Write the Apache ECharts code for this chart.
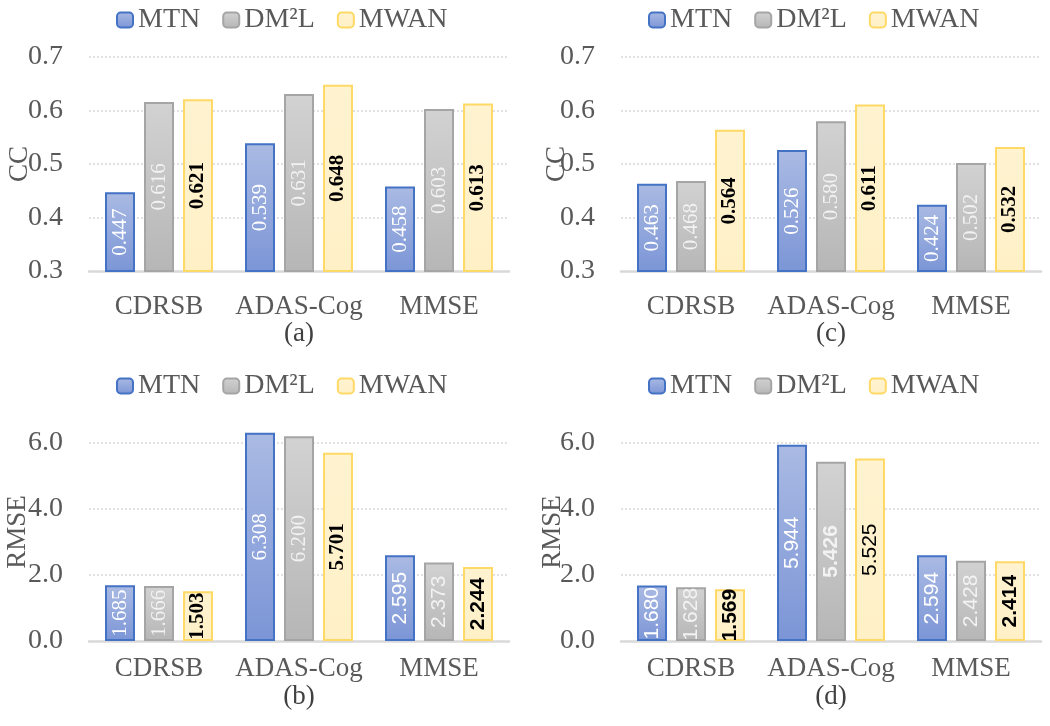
<!DOCTYPE html>
<html>
<head>
<meta charset="utf-8">
<script src="https://cdn.jsdelivr.net/npm/echarts@6/dist/echarts.min.js"></script>
<style>html,body{margin:0;padding:0;background:#fff}#c{width:1050px;height:726px}</style>
</head>
<body>
<div id="c"></div>
<script>
// ---- data ----
const categories = ['CDRSB', 'ADAS-Cog', 'MMSE'];
const seriesNames = ['MTN', 'DM\u00B2L', 'MWAN'];
const panelLabels = ['(a)', '(b)', '(c)', '(d)'];
const ccTicks = [0.3, 0.4, 0.5, 0.6, 0.7];
const rmseTicks = [0.0, 2.0, 4.0, 6.0];

const a_MTN = [0.447, 0.539, 0.458];
const a_DM2L = [0.616, 0.631, 0.603];
const a_MWAN = [0.621, 0.648, 0.613];

const b_MTN = [1.685, 6.308, 2.595];
const b_DM2L = [1.666, 6.200, 2.373];
const b_MWAN = [1.503, 5.701, 2.244];

const c_MTN = [0.463, 0.526, 0.424];
const c_DM2L = [0.468, 0.580, 0.502];
const c_MWAN = [0.564, 0.611, 0.532];

const d_MTN = [1.680, 5.944, 2.594];
const d_DM2L = [1.628, 5.426, 2.428];
const d_MWAN = [1.569, 5.525, 2.414];

// ---- styling / layout ----
const SERIF = "'Liberation Serif', 'DejaVu Serif', serif";
const SANS = "'Liberation Sans Narrow', 'Liberation Sans', 'DejaVu Sans', sans-serif";
const GRAY = '#595959';

const panels = [
  {vals: [a_MTN, a_DM2L, a_MWAN], left: 89, top: 57, height: 214, kind: 'cc', name: 'CC', nameGap: 56, catMargin: 22, title: panelLabels[0], tx: 299, ty: 334, ly: 6},
  {vals: [b_MTN, b_DM2L, b_MWAN], left: 89, top: 423, height: 218, kind: 'rmse', name: 'RMSE', nameGap: 58, catMargin: 14, title: panelLabels[1], tx: 299, ty: 697, ly: 372},
  {vals: [c_MTN, c_DM2L, c_MWAN], left: 621, top: 57, height: 214, kind: 'cc', name: 'CC', nameGap: 51, catMargin: 22, title: panelLabels[2], tx: 831, ty: 334, ly: 6},
  {vals: [d_MTN, d_DM2L, d_MWAN], left: 621, top: 423, height: 218, kind: 'rmse', name: 'RMSE', nameGap: 55, catMargin: 14, title: panelLabels[3], tx: 831, ty: 697, ly: 372}
];

function grad(top, bottom) {
  return new echarts.graphic.LinearGradient(0, 0, 0, 1, [{offset: 0, color: top}, {offset: 1, color: bottom}]);
}
const fills = [grad('#AABAE3', '#7B95D6'), grad('#D2D2D2', '#B6B6B6'), grad('#FFF3D0', '#FFF0C6')];
const borders = ['#4472C4', '#A5A5A5', '#FFD966'];

function labelFont(p, ci) {
  if (p === 3) return SANS;
  if (p === 1 && ci === 2) return SANS;
  return SERIF;
}
function labelWeight(p, si, ci) {
  if (p === 3 && ci === 1) return si === 1 ? 'bold' : 'normal';
  return si === 2 ? 'bold' : 'normal';
}
function labelColor(si) { return si === 2 ? '#000000' : (si === 1 ? '#F2F2F2' : '#FFFFFF'); }

const option = {
  animation: false,
  backgroundColor: '#fff',
  grid: [], xAxis: [], yAxis: [], series: [], legend: [], graphic: []
};

panels.forEach((pn, p) => {
  option.grid.push({left: pn.left, top: pn.top, width: 420, height: pn.height});
  option.xAxis.push({
    type: 'category', gridIndex: p, data: categories,
    axisLine: {lineStyle: {color: '#D9D9D9', width: 2.5}},
    axisTick: {show: false},
    axisLabel: {color: GRAY, fontFamily: SERIF, fontSize: 27, margin: pn.catMargin, interval: 0, hideOverlap: false}
  });
  const isCC = pn.kind === 'cc';
  const ticks = isCC ? ccTicks : rmseTicks;
  option.yAxis.push({
    type: 'value', gridIndex: p,
    min: ticks[0], max: isCC ? ticks[ticks.length - 1] : 6.6,
    interval: isCC ? 0.1 : 2,
    name: pn.name, nameLocation: 'middle', nameGap: pn.nameGap, nameMoveOverlap: false,
    nameTextStyle: {color: GRAY, fontFamily: SERIF, fontSize: 27},
    axisLine: {show: false}, axisTick: {show: false},
    axisLabel: {color: GRAY, fontFamily: SERIF, fontSize: 28, margin: 26, showMaxLabel: isCC,
      formatter: v => v.toFixed(1)},
    splitLine: {show: true, showMinLine: false, showMaxLine: isCC, lineStyle: {color: '#D9D9D9', type: [2, 2], width: 1.5}}
  });
  pn.vals.forEach((arr, si) => {
    option.series.push({
      type: 'bar', name: seriesNames[si], xAxisIndex: p, yAxisIndex: p,
      barWidth: 30, barGap: '30%',
      itemStyle: {color: fills[si], borderColor: borders[si], borderWidth: 2},
      data: arr.map((v, ci) => ({
        value: v,
        label: {
          show: true, position: 'inside', rotate: 90, align: 'center', verticalAlign: 'middle',
          formatter: () => v.toFixed(3),
          fontSize: 21, fontFamily: labelFont(p, ci), fontWeight: labelWeight(p, si, ci), color: labelColor(si)
        }
      }))
    });
  });
  option.legend.push({
    left: pn.left + 27, top: pn.ly, padding: 0, itemGap: 22, itemWidth: 16, itemHeight: 15,
    data: seriesNames, selectedMode: false,
    textStyle: {color: GRAY, fontFamily: SERIF, fontSize: 28, padding: [0, 0, 0, 0]}
  });
  option.graphic.push({
    type: 'text', x: pn.tx, y: pn.ty,
    style: {text: pn.title, fill: '#404040', font: '27px ' + SERIF, textAlign: 'center', textVerticalAlign: 'middle'}
  });
});

const chart = echarts.init(document.getElementById('c'), null, {renderer: 'canvas'});
chart.setOption(option);
</script>
</body>
</html>
